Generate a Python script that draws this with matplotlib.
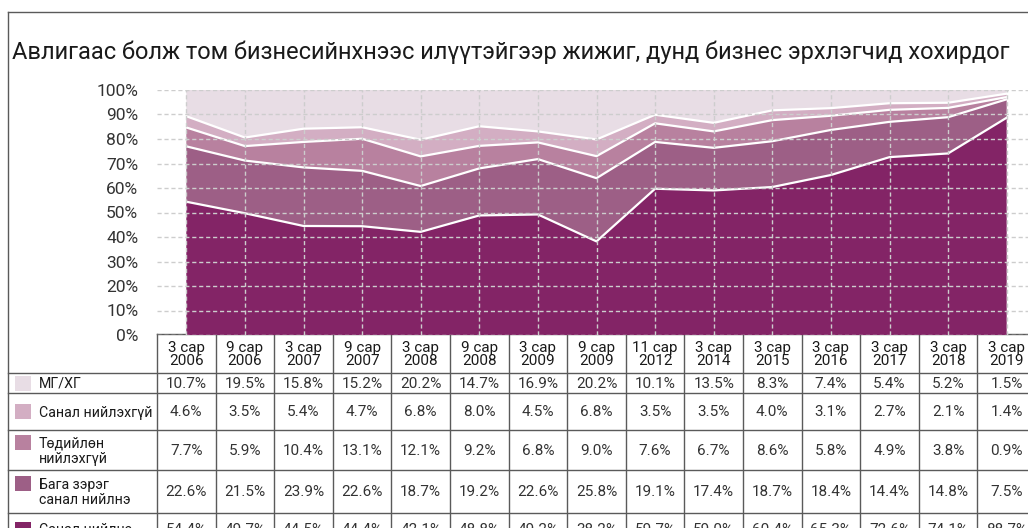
import matplotlib
matplotlib.use("Agg")
import matplotlib.pyplot as plt
from matplotlib.patches import Rectangle

plt.rcParams["font.family"] = ["Roboto", "DejaVu Sans"]

TITLE = "Авлигаас болж том бизнесийнхнээс илүүтэйгээр жижиг, дунд бизнес эрхлэгчид хохирдог"

periods = ["3 сар\n2006", "9 сар\n2006", "3 сар\n2007", "9 сар\n2007", "3 сар\n2008",
           "9 сар\n2008", "3 сар\n2009", "9 сар\n2009", "11 сар\n2012", "3 сар\n2014",
           "3 сар\n2015", "3 сар\n2016", "3 сар\n2017", "3 сар\n2018", "3 сар\n2019"]

# bottom -> top of the stack
agree = [54.4, 49.7, 44.5, 44.4, 42.1, 48.8, 49.2, 38.2, 59.7, 59.0, 60.4, 65.3, 72.6, 74.1, 88.7]
somewhat_agree = [22.6, 21.5, 23.9, 22.6, 18.7, 19.2, 22.6, 25.8, 19.1, 17.4, 18.7, 18.4, 14.4, 14.8, 7.5]
not_really = [7.7, 5.9, 10.4, 13.1, 12.1, 9.2, 6.8, 9.0, 7.6, 6.7, 8.6, 5.8, 4.9, 3.8, 0.9]
disagree = [4.6, 3.5, 5.4, 4.7, 6.8, 8.0, 4.5, 6.8, 3.5, 3.5, 4.0, 3.1, 2.7, 2.1, 1.4]
dont_know = [10.7, 19.5, 15.8, 15.2, 20.2, 14.7, 16.9, 20.2, 10.1, 13.5, 8.3, 7.4, 5.4, 5.2, 1.5]

series = [agree, somewhat_agree, not_really, disagree, dont_know]
labels = ["Санал нийлнэ", "Бага зэрэг\nсанал нийлнэ", "Төдийлөн\nнийлэхгүй",
          "Санал нийлэхгүй", "МГ/ХГ"]
colors = ["#832466", "#9d5f86", "#b8819f", "#d3aec3", "#e8dde5"]

INK = "#1a1a1a"
GRID = "#cdcdcd"
RULE = "#5a5a5a"

W, H = 1028, 528
fig = plt.figure(figsize=(W / 100, H / 100), dpi=100)

# pixel-space overlay for frame, title and table
bg = fig.add_axes([0, 0, 1, 1])
bg.set_xlim(0, W)
bg.set_ylim(H, 0)
bg.axis("off")

# chart axes: 15 columns of 58.6 px starting at x=157, 0% at y=335, 100% at y=90
x0, col_w, y_top, y_bot = 157, 58.6, 90, 335
n = len(periods)
ax = fig.add_axes([x0 / W, (H - y_bot) / H, n * col_w / W, (y_bot - y_top) / H])
ax.set_zorder(2)
ax.patch.set_alpha(0)

xs = list(range(n))
ax.stackplot(xs, *series, colors=colors, linewidth=0, zorder=1)
cum = [0.0] * n
for s in series[:-1]:
    cum = [c + v for c, v in zip(cum, s)]
    ax.plot(xs, cum, color="white", lw=1.6, zorder=2, solid_joinstyle="round")

ax.set_xlim(-0.5, n - 0.5)
ax.set_ylim(0, 100)
ax.set_xticks(xs)
ax.set_xticklabels([])
ax.set_yticks(range(0, 101, 10))
ax.set_yticklabels([f"{v}%" for v in range(0, 101, 10)], fontsize=12.5, color="#333333")
ax.tick_params(length=0, pad=13.5)
ax.grid(True, ls=(0, (3, 2)), color=GRID, lw=1)
ax.set_axisbelow(False)
for sp in ax.spines.values():
    sp.set_visible(False)

# frame
bg.plot([8, W + 5], [12, 12], color=RULE, lw=1)
bg.plot([8, 8], [12, H + 5], color=RULE, lw=1)

bg.text(12, 52, TITLE, fontsize=17, color=INK, va="center", ha="left")

# table
row_edges = [334, 373, 393, 430, 470, 513, 546]
right = x0 + n * col_w
bg.plot([x0, right], [row_edges[0], row_edges[0]], color=RULE, lw=1)
for y in row_edges[1:-1]:
    bg.plot([8, right], [y, y], color=RULE, lw=1)
for i in range(n + 1):
    xc = x0 + i * col_w
    bg.plot([xc, xc], [row_edges[0], H + 5], color=RULE, lw=1)

for i, p in enumerate(periods):
    bg.text(x0 + (i + 0.5) * col_w, (row_edges[0] + row_edges[1]) / 2 + 1, p,
            ha="center", va="center", fontsize=11, color=INK, linespacing=0.95)

line_h = 16
table_rows = list(zip(labels, series, colors))[::-1]
for r, (lab, vals, col) in enumerate(table_rows):
    yc = (row_edges[r + 1] + row_edges[r + 2]) / 2
    nl = lab.count("\n") + 1
    py = yc - (nl - 1) * line_h / 2
    bg.add_patch(Rectangle((15, py - 7.5), 16, 15, color=col, lw=0))
    bg.text(39, yc + 1, lab, ha="left", va="center", fontsize=10.2, color=INK,
            linespacing=1.15)
    for i, v in enumerate(vals):
        bg.text(x0 + (i + 0.5) * col_w, yc + 1, f"{v:.1f}%", ha="center", va="center",
                fontsize=11, color="#333333")

fig.savefig("out.png", dpi=100)
